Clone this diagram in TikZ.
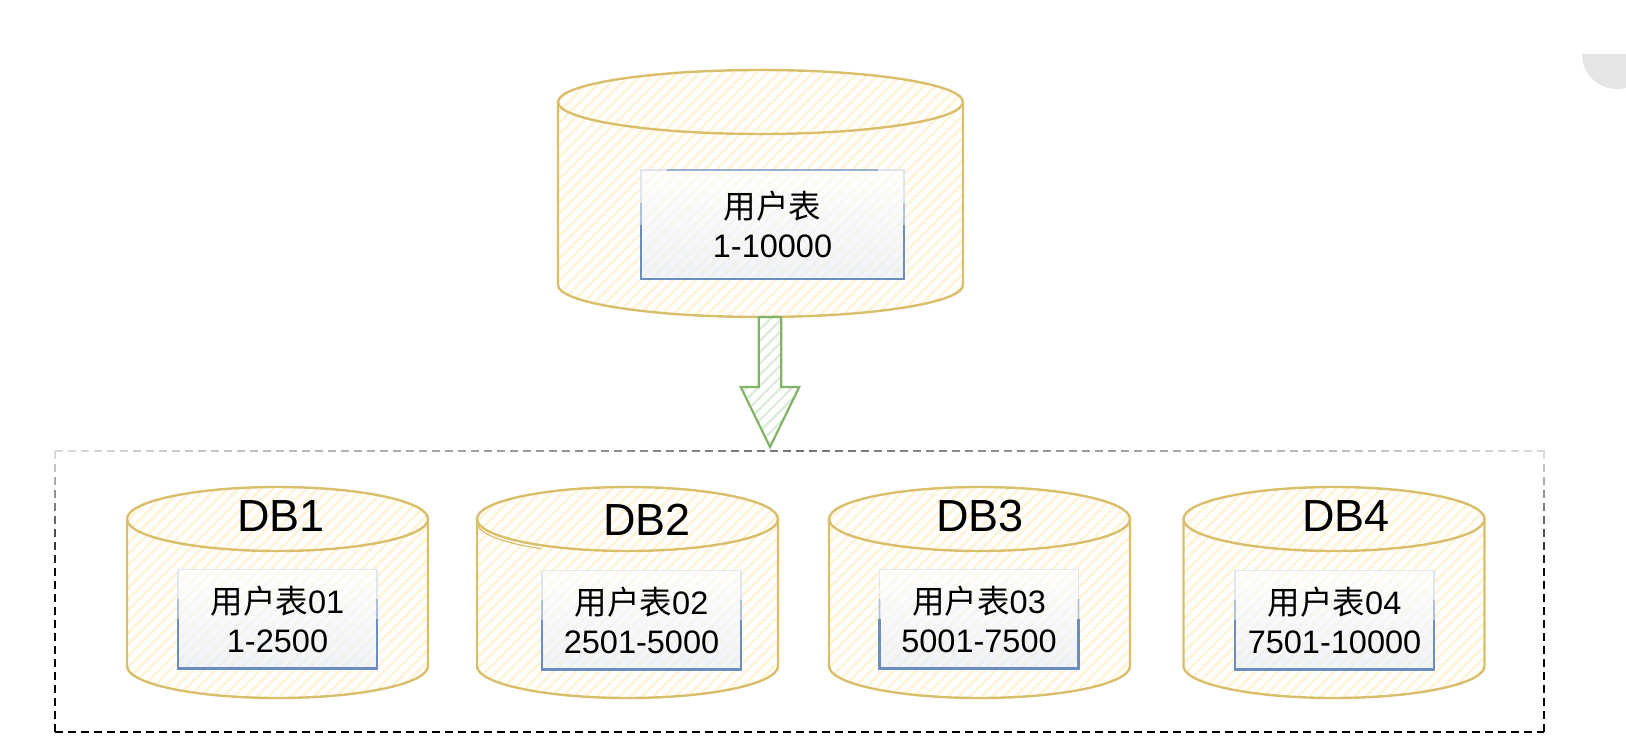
\documentclass[tikz,border=0pt]{standalone}
\usepackage{fontspec}
\setmainfont{Liberation Sans}
\newfontfamily\cjk{Noto Sans CJK SC}
\usetikzlibrary{calc}
\usetikzlibrary{patterns.meta}
\usetikzlibrary{shapes.arrows}
\definecolor{dbline}{HTML}{D9BE6C}
\definecolor{dbhatch}{HTML}{FFF4D8}
\definecolor{tabline}{HTML}{6C8EBF}
\definecolor{arrowline}{HTML}{82B366}
\definecolor{arrowhatch}{HTML}{DDEDDC}
\tikzset{
	dbbase/.style={rectangle,inner sep=0pt,outer sep=0pt},
	dbcyl/.style={draw=dbline,line width=2.4pt,
		pattern={Lines[angle=45,distance=8pt,line width=2.8pt]},pattern color=dbhatch},
	tabbox/.style={rectangle,draw=tabline!22,line width=1.2pt,inner sep=0pt,outer sep=0pt,
		top color=white,bottom color=tabline!16,fill opacity=.65,text opacity=1,align=center,
		font=\fontsize{32.5}{39}\selectfont},
	tabrim/.style={draw=tabline,line width=2.2pt},
	tabfade/.style={draw=tabline!55,line width=1.8pt},
	dblabel/.style={inner sep=0pt,font=\fontsize{45}{50}\selectfont},
	framedash/.style={line width=2pt}
}
% cylinder round a named node: name, half width
\newcommand{\dbdraw}[2]{
	\path [dbcyl] ($(#1.north west)+(0,32)$) arc[start angle=180,end angle=0,x radius=#2pt,y radius=32pt]
		-- ($(#1.south east)-(0,32)$) arc[start angle=0,end angle=-180,x radius=#2pt,y radius=32pt] -- cycle;
	\draw [draw=dbline,line width=2.4pt] ($(#1.north west)+(0,32)$) arc[start angle=180,end angle=360,x radius=#2pt,y radius=32pt];
}
% fading rim of a table box: name
\newcommand{\tabdraw}[1]{
	\draw [tabfade] ($(#1.north west)!.3!(#1.south west)$) -- (#1.west);
	\draw [tabfade] ($(#1.north east)!.3!(#1.south east)$) -- (#1.east);
	\draw [tabrim] (#1.west) -- (#1.south west) -- (#1.south east) -- (#1.east);
}
\begin{document}
\begin{tikzpicture}[x=1pt,y=-1pt]
\useasboundingbox (0,0) rectangle (1626,750);
\fill[black!10] (1582,54) arc[start angle=180,end angle=360,radius=35pt] -- cycle;
% source table
\node [dbbase,minimum width=405pt,minimum height=247pt] (src) at (760.5,193.5) {};
\dbdraw{src}{202.5}
\node [tabbox,minimum width=263pt,minimum height=109pt] (srctab) at (772.5,224.5) {{\cjk 用户表}\\1-10000};
\tabdraw{srctab}
\draw [tabline!70,line width=1.2pt] ($(srctab.north west)!.1!(srctab.north east)$) -- ($(srctab.north west)!.9!(srctab.north east)$);
% frame of the shards
\node [dbbase,minimum width=1489pt,minimum height=281pt] (frame) at (799.5,591.5) {};
\foreach \k in {0,...,114}{
	\pgfmathtruncatemacro\shade{15+40*(1-abs(2*\k/114-1))}
	\draw [framedash,black!\shade] ($(frame.north west)+(\k*13,0)$) -- ++(8,0);
}
\foreach \k in {0,...,21}{
	\pgfmathtruncatemacro\shade{min(100,15+\k*9)}
	\draw [framedash,black!\shade] ($(frame.north west)+(0,\k*13)$) -- ++(0,8);
	\draw [framedash,black!\shade] ($(frame.north east)+(0,\k*13)$) -- ++(0,8);
}
\draw [framedash,black,dash pattern=on 8pt off 5pt] (frame.south west) -- (frame.south east);
% shards
\foreach \i/\cx/\ty/\tx/\lx/\ly/\rng in {1/277.5/619/277.5/281/516/1-2500,
	2/627.5/620/641.5/647/520/2501-5000,
	3/979.5/619/979/980/516/5001-7500,
	4/1334/620/1334.5/1346/516/7501-10000}{
	\node [dbbase,minimum width=301pt,minimum height=211pt] (db\i) at (\cx,592.5) {};
	\dbdraw{db\i}{150.5}
	\node [dblabel] (dbname\i) at (\lx,\ly) {DB\i};
	\node [tabbox,minimum width=199pt,minimum height=99pt] (tab\i) at (\tx,\ty) {{\cjk 用户表}0\i\\\rng};
	\tabdraw{tab\i}
}
\draw [draw=dbline,line width=1.2pt] ($(db2.north west)+(0,35.5)$) arc[start angle=180,end angle=235,x radius=150.5pt,y radius=32pt];
% split arrow
\node [single arrow,shape border rotate=270,anchor=tip,draw=arrowline,line width=2.2pt,
	minimum width=57pt,minimum height=130pt,inner sep=10pt,outer sep=0pt,
	single arrow head extend=18pt,single arrow tip angle=52,
	pattern={Lines[angle=45,distance=8pt,line width=2.5pt]},pattern color=arrowhatch] (split) at (770,447) {};
\end{tikzpicture}
\end{document}
